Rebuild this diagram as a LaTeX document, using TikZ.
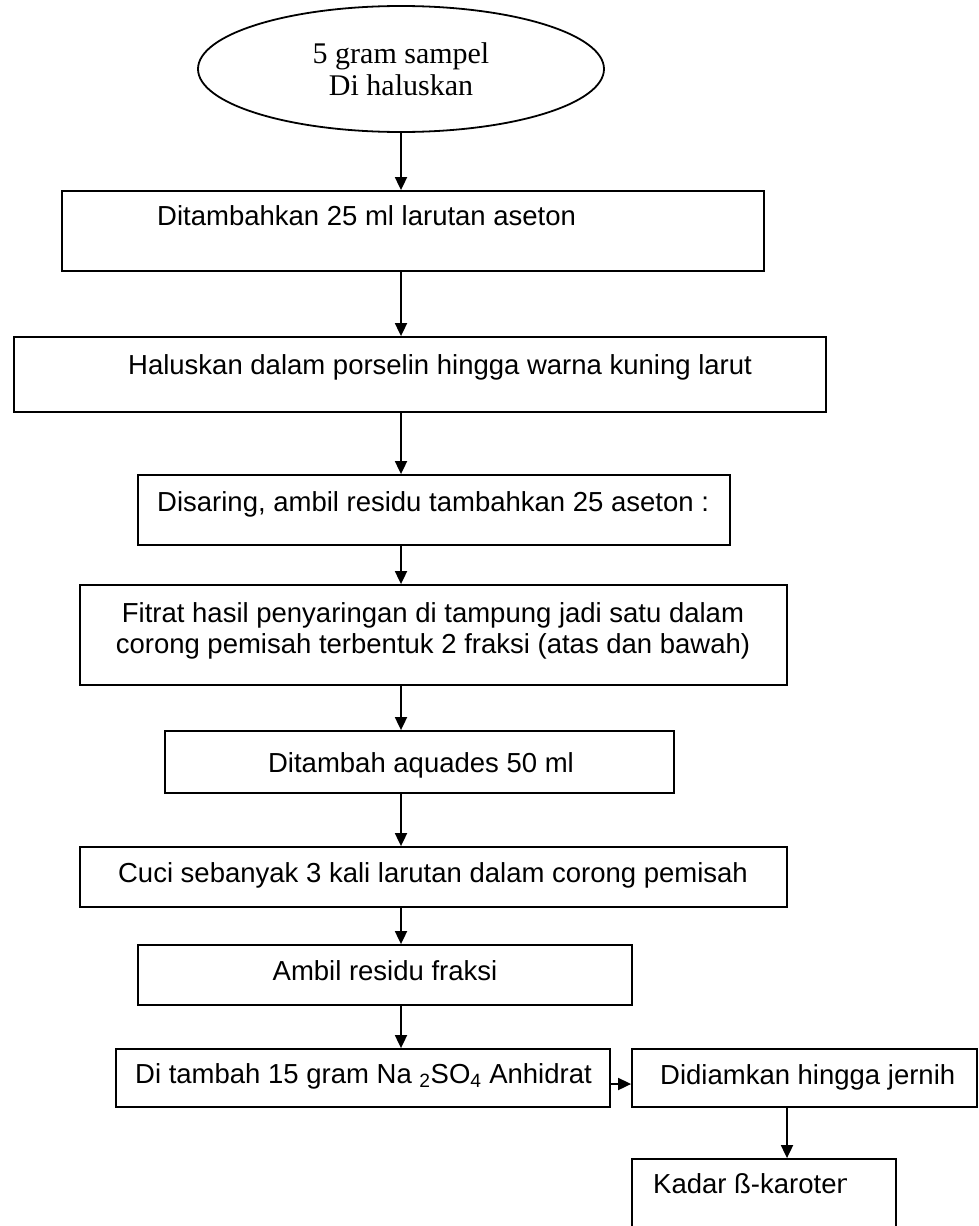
\documentclass[tikz,border=0pt]{standalone}
\usepackage{fontspec}
\setmainfont{Liberation Sans}
\newfontfamily\serifface{Liberation Serif}
\usetikzlibrary{shapes.geometric,arrows.meta}
\begin{document}
\begin{tikzpicture}[x=1pt,y=-1pt,
  box/.style={draw,line width=1.8pt,inner sep=0pt},
  txt/.style={inner sep=0pt,font=\fontsize{27.5}{31}\selectfont},
  arr/.style={line width=1.8pt,-{Triangle[length=13pt,width=12pt]}}]
\clip (0,0) rectangle (979,1226);
\coordinate (ax) at (401,0);
\coordinate (bx) at (787,0);
\coordinate (hy) at (0,1084);
% ellipse
\node[ellipse,draw,line width=1.8pt,inner sep=0pt,minimum width=406pt,minimum height=126pt,
  align=center,font=\serifface\fontsize{30}{32}\selectfont] (e) at (401,69) {5 gram sampel\\ Di haluskan};
% boxes
\node[box,minimum width=702pt,minimum height=80pt] (b1) at (413,231) {};
\node[box,minimum width=812pt,minimum height=75pt] (b2) at (420,374.5) {};
\node[box,minimum width=592pt,minimum height=70pt] (b3) at (434,510) {};
\node[box,minimum width=707pt,minimum height=100pt] (b4) at (433.5,635) {};
\node[box,minimum width=509pt,minimum height=62pt] (b5) at (419.5,762) {};
\node[box,minimum width=707pt,minimum height=60pt] (b6) at (433.5,877) {};
\node[box,minimum width=494pt,minimum height=60pt] (b7) at (385,975) {};
\node[box,minimum width=494pt,minimum height=58pt] (b8) at (363,1078) {};
\node[box,minimum width=345pt,minimum height=58pt] (b9) at (804.5,1078) {};
\node[box,minimum width=264pt,minimum height=101pt] (b10) at (764,1209.5) {};
% texts
\node[txt,anchor=base west] (t1) at (157,225) {Ditambahkan 25 ml larutan aseton};
\node[txt,anchor=base west] (t2) at (128,374) {Haluskan dalam porselin hingga warna kuning larut};
\node[txt,anchor=base west] (t3) at (157,511) {Disaring, ambil residu tambahkan 25 aseton :};
\node[txt,anchor=base] (t4a) at (433,622) {Fitrat hasil penyaringan di tampung jadi satu dalam};
\node[txt,anchor=base] (t4b) at (433,653) {corong pemisah terbentuk 2 fraksi (atas dan bawah)};
\node[txt,anchor=base] (t5) at (421,772) {Ditambah aquades 50 ml};
\node[txt,anchor=base] (t6) at (433,882) {Cuci sebanyak 3 kali larutan dalam corong pemisah};
\node[txt,anchor=base] (t7) at (385,980) {Ambil residu fraksi};
\node[txt,anchor=base west] (t8) at (135,1083) {Di tambah 15 gram Na \textsubscript{2}SO\textsubscript{4} Anhidrat};
\node[txt,anchor=base west] (t9) at (660,1084) {Didiamkan hingga jernih};
\begin{scope}
\clip (640,1160) rectangle (846,1226);
\node[txt,anchor=base west] (t10) at (653,1193) {Kadar ß-karoten};
\end{scope}
% connectors
\draw[arr] (e.south) -- (b1.north -| ax);
\draw[arr] (b1.south -| ax) -- (b2.north -| ax);
\draw[arr] (b2.south -| ax) -- (b3.north -| ax);
\draw[arr] (b3.south -| ax) -- (b4.north -| ax);
\draw[arr] (b4.south -| ax) -- (b5.north -| ax);
\draw[arr] (b5.south -| ax) -- (b6.north -| ax);
\draw[arr] (b6.south -| ax) -- (b7.north -| ax);
\draw[arr] (b7.south -| ax) -- (b8.north -| ax);
\draw[arr] (b8.east |- hy) -- (b9.west |- hy);
\draw[arr] (b9.south -| bx) -- (b10.north -| bx);
\end{tikzpicture}
\end{document}
